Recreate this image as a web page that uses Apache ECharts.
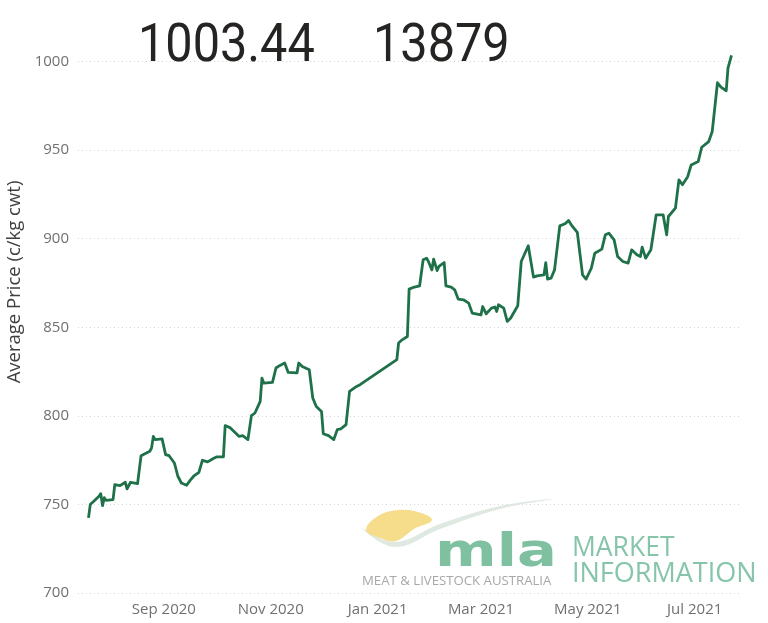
<!DOCTYPE html>
<html>
<head>
<meta charset="utf-8">
<script src="https://cdn.jsdelivr.net/npm/echarts@6/dist/echarts.min.js"></script>
<style>
html,body{margin:0;padding:0;background:#fff;}
#chart{width:768px;height:623px;}
</style>
</head>
<body>
<div id="chart"></div>
<script>
const dates = ['2020-07-20','2020-07-21','2020-07-23','2020-07-26','2020-07-27','2020-07-28','2020-07-29','2020-07-30','2020-08-03','2020-08-04','2020-08-07','2020-08-10','2020-08-11','2020-08-13','2020-08-17','2020-08-19','2020-08-24','2020-08-25','2020-08-26','2020-08-27','2020-08-31','2020-09-02','2020-09-04','2020-09-07','2020-09-09','2020-09-11','2020-09-14','2020-09-16','2020-09-18','2020-09-21','2020-09-23','2020-09-26','2020-09-29','2020-10-01','2020-10-05','2020-10-06','2020-10-09','2020-10-14','2020-10-16','2020-10-19','2020-10-21','2020-10-23','2020-10-26','2020-10-27','2020-10-28','2020-10-29','2020-11-02','2020-11-04','2020-11-06','2020-11-09','2020-11-11','2020-11-16','2020-11-17','2020-11-19','2020-11-23','2020-11-25','2020-11-27','2020-11-30','2020-12-01','2020-12-04','2020-12-07','2020-12-09','2020-12-11','2020-12-14','2020-12-16','2020-12-20','2020-12-22','2021-01-12','2021-01-13','2021-01-15','2021-01-18','2021-01-19','2021-01-22','2021-01-25','2021-01-27','2021-01-29','2021-01-30','2021-02-01','2021-02-02','2021-02-04','2021-02-05','2021-02-08','2021-02-09','2021-02-12','2021-02-14','2021-02-16','2021-02-19','2021-02-22','2021-02-24','2021-03-01','2021-03-02','2021-03-04','2021-03-07','2021-03-09','2021-03-10','2021-03-11','2021-03-14','2021-03-16','2021-03-18','2021-03-22','2021-03-24','2021-03-25','2021-03-28','2021-03-31','2021-04-02','2021-04-06','2021-04-07','2021-04-08','2021-04-10','2021-04-12','2021-04-15','2021-04-18','2021-04-20','2021-04-22','2021-04-25','2021-04-28','2021-04-30','2021-05-03','2021-05-05','2021-05-09','2021-05-11','2021-05-13','2021-05-16','2021-05-18','2021-05-21','2021-05-24','2021-05-26','2021-05-29','2021-05-31','2021-06-01','2021-06-03','2021-06-06','2021-06-09','2021-06-13','2021-06-15','2021-06-16','2021-06-20','2021-06-22','2021-06-24','2021-06-27','2021-06-29','2021-07-03','2021-07-05','2021-07-09','2021-07-11','2021-07-14','2021-07-16','2021-07-19','2021-07-20','2021-07-21','2021-07-22'];

const prices = [742.4,749.9,751.8,754.6,756.1,749.3,753.8,752.3,752.7,761.2,760.6,762.5,758.8,762.5,761.7,777.5,780,781.9,788.4,786.6,787,778.1,777.5,773.4,765.9,762.1,760.8,763.6,765.9,768.1,774.9,774,775.8,776.8,776.8,794.5,793.2,788.4,788.8,786.6,800.1,801.6,808.2,821.3,818.5,819.4,818.9,827,828.3,829.8,824.5,824.2,829.8,827.9,826,810.1,805.3,802.5,789.9,788.8,786.6,792.2,792.6,795,813.8,816.6,817.6,831.7,841.1,842.9,844.8,871.5,872.7,873.4,888.1,889,887.1,882.4,888.5,882,884.3,886.5,873.4,872.7,871.1,865.9,865.5,863.6,858,857,861.7,857.6,860.8,861.4,858.9,862.7,860.8,853.3,855.2,862.1,887.1,888.1,896,878.3,879,879.6,886.5,877.2,877.7,882.4,907.2,908.4,910.2,907.2,903.5,879.6,877.2,883.4,891.8,894.1,902.2,903.1,899.3,889.9,887.1,886.2,893.7,890.9,889.9,895.2,889,893.7,913.4,913.4,902.2,912.5,917.2,933.2,930.4,935,941.6,943.5,951.6,954.8,960.4,988,985.5,983.5,996.2,995.2,1003.44];

const xTickDates = ['2020-09-01','2020-11-01','2021-01-01','2021-03-01','2021-05-01','2021-07-01'];
const monthNames = ['Jan','Feb','Mar','Apr','May','Jun','Jul','Aug','Sep','Oct','Nov','Dec'];
const xMin = '2020-07-14';
const xMax = '2021-07-28';
const yTicks = [700, 750, 800, 850, 900, 950, 1000];
const kpiPrice = '1003.44';
const kpiHead = '13879';
const yTitle = 'Average Price (c/kg cwt)';

const toTs = s => { const p = s.split('-').map(Number); return new Date(p[0], p[1]-1, p[2]).getTime(); };

const chart = echarts.init(document.getElementById('chart'), null, {renderer: 'canvas'});
chart.setOption({
  animation: false,
  backgroundColor: '#ffffff',
  grid: {left: 78, right: 26, top: 61.5, bottom: 30, containLabel: false, outerBoundsMode: 'none'},
  xAxis: {
    type: 'value',
    min: toTs(xMin),
    max: toTs(xMax),
    scale: true,
    axisLine: {show: false},
    axisTick: {show: false},
    splitLine: {show: false},
    axisLabel: {
      customValues: xTickDates.map(toTs),
      margin: 9,
      fontFamily: 'Open Sans',
      fontSize: 15,
      color: '#707070',
      hideOverlap: false,
      formatter: v => { const d = new Date(v); return monthNames[d.getMonth()] + ' ' + d.getFullYear(); }
    }
  },
  yAxis: {
    type: 'value',
    min: yTicks[0],
    max: yTicks[yTicks.length-1],
    interval: 50,
    axisLine: {show: false},
    axisTick: {show: false},
    axisLabel: {margin: 9, fontFamily: 'Open Sans', fontSize: 15, color: '#707070', formatter: v => String(v)},
    splitLine: {show: true, lineStyle: {color: '#d6d6d6', type: [1, 3], width: 1}}
  },
  graphic: [
    {type: 'text', x: 138, y: 47, scaleX: 0.9, z: 10,
     style: {text: kpiPrice, fontSize: 54, fontFamily: 'Roboto', fill: '#252423', align: 'left', verticalAlign: 'middle'}},
    {type: 'text', x: 373, y: 47, scaleX: 0.9, z: 10,
     style: {text: kpiHead, fontSize: 54, fontFamily: 'Roboto', fill: '#252423', align: 'left', verticalAlign: 'middle'}},
    {type: 'text', x: 15, y: 282, rotation: Math.PI/2, z: 10,
     style: {text: yTitle, fontSize: 18.5, fontFamily: 'Open Sans', fill: '#404040', align: 'center', verticalAlign: 'middle'}},
    {type: 'polygon', z: 1,
     shape: {points: [[362,528],[395,542],[440,524],[500,506],[553,499],[500,509],[440,529],[395,547]], smooth: 0.4},
     style: {fill: '#dfe9e2'}},
    {type: 'polygon', z: 2,
     shape: {points: [[366,530],[378,516],[398,510],[418,512],[432,520],[414,529],[396,541],[380,538]], smooth: 0.4},
     style: {fill: '#f6dd8c'}},
    {type: 'text', x: 435, y: 554, scaleX: 1.26, z: 2,
     style: {text: 'mla', fontSize: 47, fontWeight: 'bold', fontFamily: 'DejaVu Sans', fill: '#7fc0a1', align: 'left', verticalAlign: 'middle'}},
    {type: 'text', x: 362, y: 581, z: 2,
     style: {text: 'MEAT & LIVESTOCK AUSTRALIA', fontSize: 13.2, fontFamily: 'Open Sans', fill: '#a8a8a8', align: 'left', verticalAlign: 'middle'}},
    {type: 'text', x: 572, y: 548, z: 2,
     style: {text: 'MARKET', fontSize: 26.5, fontFamily: 'Open Sans', fill: '#86c5a9', align: 'left', verticalAlign: 'middle'}},
    {type: 'text', x: 572, y: 574, z: 2,
     style: {text: 'INFORMATION', fontSize: 27, fontFamily: 'Open Sans', fill: '#86c5a9', align: 'left', verticalAlign: 'middle'}}
  ],
  series: [{
    type: 'line',
    data: dates.map((d, i) => [toTs(d), prices[i]]),
    showSymbol: false,
    symbol: 'none',
    clip: false,
    z: 5,
    lineStyle: {color: '#1f7149', width: 2.8, join: 'round'}
  }]
});
</script>
</body>
</html>
